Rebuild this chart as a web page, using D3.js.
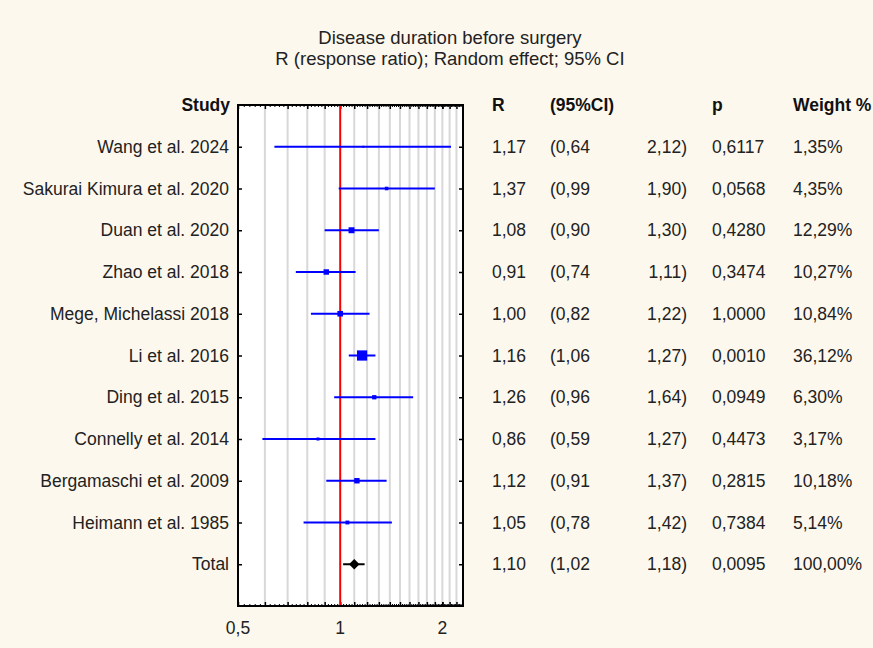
<!DOCTYPE html>
<html>
<head>
<meta charset="utf-8">
<script src="https://cdn.jsdelivr.net/npm/d3@7"></script>
<style>
	body { margin: 0; background: #fdf8ee; }
	svg { display: block; font-family: "Liberation Sans", Arial, sans-serif; }
</style>
</head>
<body>
<div id="chart"></div>
<script>
const studies   = ["Wang et al. 2024", "Sakurai Kimura et al. 2020", "Duan et al. 2020", "Zhao et al. 2018",
	"Mege, Michelassi 2018", "Li et al. 2016", "Ding et al. 2015", "Connelly et al. 2014",
	"Bergamaschi et al. 2009", "Heimann et al. 1985"];
const ratios    = [1.17, 1.37, 1.08, 0.91, 1.00, 1.16, 1.26, 0.86, 1.12, 1.05];
const lower     = [0.64, 0.99, 0.90, 0.74, 0.82, 1.06, 0.96, 0.59, 0.91, 0.78];
const upper     = [2.12, 1.90, 1.30, 1.11, 1.22, 1.27, 1.64, 1.27, 1.37, 1.42];
const pValues   = ["0,6117", "0,0568", "0,4280", "0,3474", "1,0000", "0,0010", "0,0949", "0,4473", "0,2815", "0,7384"];
const weights   = [1.35, 4.35, 12.29, 10.27, 10.84, 36.12, 6.30, 3.17, 10.18, 5.14];

const total     = {label: "Total", r: 1.10, lo: 1.02, hi: 1.18, p: "0,0095", w: 100.00};
const xTicks    = [0.5, 1, 2];
const gridTicks = [0.6, 0.7, 0.8, 0.9, 1.1, 1.2, 1.3, 1.4, 1.5, 1.6, 1.7, 1.8, 1.9, 2.0, 2.1, 2.2];

const width = 873, height = 648;
const fs = 17.5;
const fmt = v => v.toFixed(2).replace(".", ",");

const svg = d3.select("#chart").append("svg")
	.attr("width", width)
	.attr("height", height);

// title
svg.append("text").attr("x", 450).attr("y", 44).attr("text-anchor", "middle")
	.attr("font-size", 18.5).attr("fill", "#222").text("Disease duration before surgery");
svg.append("text").attr("x", 450).attr("y", 65).attr("text-anchor", "middle")
	.attr("font-size", 18.5).attr("fill", "#222").text("R (response ratio); Random effect; 95% CI");

const plot = {left: 238, right: 463, top: 105, bottom: 606};

const x = d3.scaleLog().domain([0.5, 2.3]).range([plot.left, plot.right]);
const rows = d3.range(studies.length + 2);
const y = d3.scalePoint().domain(rows).range([plot.top, plot.bottom - (plot.bottom - plot.top) / 12]);

// white plot area
svg.append("rect")
	.attr("x", plot.left).attr("y", plot.top)
	.attr("width", plot.right - plot.left).attr("height", plot.bottom - plot.top)
	.attr("fill", "#fff");

// background grid
svg.append("g").selectAll("line").data(gridTicks).join("line")
	.attr("x1", d => x(d)).attr("x2", d => x(d))
	.attr("y1", plot.top).attr("y2", plot.bottom)
	.attr("stroke", "#d8d8d8").attr("stroke-width", 2);

// minor ticks top/bottom
const minor = d3.range(0.52, 2.3, 0.02).filter(d => !gridTicks.some(g => Math.abs(g - d) < 1e-6));
svg.append("g").attr("transform", "translate(0," + plot.bottom + ")")
	.call(d3.axisTop(x).tickValues(minor).tickSize(2).tickFormat(""))
	.call(g => g.select(".domain").remove());
svg.append("g").attr("transform", "translate(0," + plot.top + ")")
	.call(d3.axisBottom(x).tickValues(minor).tickSize(2).tickFormat(""))
	.call(g => g.select(".domain").remove());

// major ticks top/bottom
svg.append("g").attr("transform", "translate(0," + plot.bottom + ")")
	.call(d3.axisTop(x).tickValues(gridTicks.concat(xTicks)).tickSize(4).tickFormat(""))
	.call(g => g.select(".domain").remove())
	.selectAll("line").attr("stroke-width", 1.5);
svg.append("g").attr("transform", "translate(0," + plot.top + ")")
	.call(d3.axisBottom(x).tickValues(gridTicks.concat(xTicks)).tickSize(4).tickFormat(""))
	.call(g => g.select(".domain").remove())
	.selectAll("line").attr("stroke-width", 1.5);

// x tick labels
svg.append("g").selectAll("text").data(xTicks).join("text")
	.attr("x", d => x(d)).attr("y", plot.bottom + 28)
	.attr("text-anchor", "middle").attr("font-size", fs).attr("fill", "#222")
	.text(d => String(d).replace(".", ","));

// row ticks left/right
const rowTicks = rows.slice(1, studies.length + 2);
svg.append("g").attr("transform", "translate(" + plot.left + ",0)")
	.call(d3.axisRight(y).tickValues(rowTicks).tickSize(4).tickFormat(""))
	.call(g => g.select(".domain").remove())
	.selectAll("line").attr("stroke-width", 1.5);
svg.append("g").attr("transform", "translate(" + plot.right + ",0)")
	.call(d3.axisLeft(y).tickValues(rowTicks).tickSize(4).tickFormat(""))
	.call(g => g.select(".domain").remove())
	.selectAll("line").attr("stroke-width", 1.5);

// reference line at 1
svg.append("line")
	.attr("x1", x(1)).attr("x2", x(1))
	.attr("y1", plot.top).attr("y2", plot.bottom)
	.attr("stroke", "#ff0000").attr("stroke-width", 2);

// study CI lines and boxes
const data = studies.map((s, i) => ({label: s, r: ratios[i], lo: lower[i], hi: upper[i], p: pValues[i], w: weights[i], row: i + 1}));

svg.append("g").selectAll("line").data(data).join("line")
	.attr("x1", d => x(d.lo)).attr("x2", d => x(d.hi))
	.attr("y1", d => y(d.row)).attr("y2", d => y(d.row))
	.attr("stroke", "#0000ff").attr("stroke-width", 2);

const boxSize = w => 1.7 * Math.sqrt(w);
svg.append("g").selectAll("rect").data(data).join("rect")
	.attr("x", d => x(d.r) - boxSize(d.w) / 2)
	.attr("y", d => y(d.row) - boxSize(d.w) / 2)
	.attr("width", d => boxSize(d.w)).attr("height", d => boxSize(d.w))
	.attr("fill", "#0000ff");

// total
const totalRow = studies.length + 1;
svg.append("line")
	.attr("x1", x(total.lo)).attr("x2", x(total.hi))
	.attr("y1", y(totalRow)).attr("y2", y(totalRow))
	.attr("stroke", "#000").attr("stroke-width", 2);
svg.append("path")
	.attr("d", d3.symbol(d3.symbolDiamond2, 70)())
	.attr("transform", "translate(" + x(total.r) + "," + y(totalRow) + ")")
	.attr("fill", "#000");

// frame
svg.append("rect")
	.attr("x", plot.left).attr("y", plot.top)
	.attr("width", plot.right - plot.left).attr("height", plot.bottom - plot.top)
	.attr("fill", "none").attr("stroke", "#000").attr("stroke-width", 2);

// table text
const allRows = data.concat([Object.assign({row: totalRow}, total)]);
const cols = [
	{x: 492, anchor: "start", head: "R", f: d => fmt(d.r)},
	{x: 550, anchor: "start", head: "(95%CI)", f: d => "(" + fmt(d.lo)},
	{x: 687, anchor: "end", head: "", f: d => fmt(d.hi) + ")"},
	{x: 712, anchor: "start", head: "p", f: d => d.p},
	{x: 793, anchor: "start", head: "Weight %", f: d => fmt(d.w) + "%"}
];

const headY = plot.top + 6;
svg.append("text").attr("x", 230).attr("y", headY).attr("text-anchor", "end")
	.attr("font-size", fs).attr("font-weight", "bold").attr("fill", "#111").text("Study");

cols.forEach(c => {
	if (c.head) {
		svg.append("text").attr("x", c.x).attr("y", headY).attr("text-anchor", c.anchor)
			.attr("font-size", fs).attr("font-weight", "bold").attr("fill", "#111").text(c.head);
	}
	svg.append("g").selectAll("text").data(allRows).join("text")
		.attr("x", c.x).attr("y", d => y(d.row) + 6)
		.attr("text-anchor", c.anchor).attr("font-size", fs).attr("fill", "#222")
		.text(c.f);
});

svg.append("g").selectAll("text").data(allRows).join("text")
	.attr("x", 229).attr("y", d => y(d.row) + 6)
	.attr("text-anchor", "end").attr("font-size", fs).attr("fill", "#222")
	.text(d => d.label);
</script>
</body>
</html>
